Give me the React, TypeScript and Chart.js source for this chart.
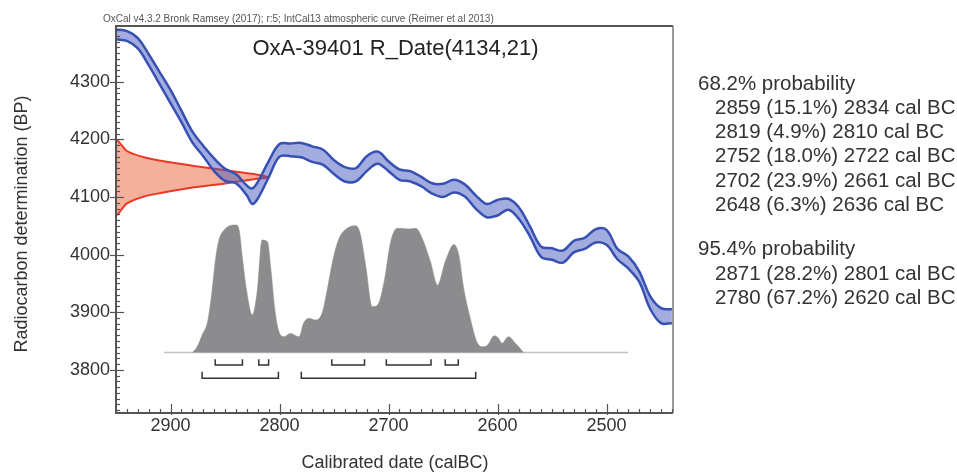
import React, { useEffect, useRef } from 'react';
import { Chart, registerables } from 'chart.js';
Chart.register(...registerables);

const FONT = '"Liberation Sans", Arial, Helvetica, sans-serif';

const HEADER = 'OxCal v4.3.2 Bronk Ramsey (2017); r:5; IntCal13 atmospheric curve (Reimer et al 2013)';
const TITLE = 'OxA-39401 R_Date(4134,21)';
const X_TITLE = 'Calibrated date (calBC)';
const Y_TITLE = 'Radiocarbon determination (BP)';

const X_TICKS = [2900, 2800, 2700, 2600, 2500];
const Y_TICKS = [3800, 3900, 4000, 4100, 4200, 4300];

// IntCal13 calibration curve band (upper / lower 1-sigma), BP
const curveYears = [2950, 2940, 2930, 2920, 2910, 2900, 2890, 2880, 2870, 2860, 2850, 2840, 2830, 2825, 2820, 2810, 2800, 2790, 2780, 2770, 2760, 2750, 2740, 2730, 2720, 2710, 2700, 2690, 2680, 2670, 2660, 2650, 2640, 2630, 2620, 2610, 2600, 2590, 2580, 2570, 2560, 2550, 2540, 2530, 2520, 2510, 2500, 2490, 2480, 2470, 2460, 2450, 2440];
const curveUpper = [4391, 4388, 4376, 4348, 4317, 4286, 4250, 4214, 4189, 4167, 4149, 4140, 4120, 4115, 4126, 4162, 4192, 4193, 4194, 4188, 4182, 4164, 4152, 4150, 4171, 4179, 4162, 4148, 4145, 4135, 4124, 4123, 4130, 4122, 4103, 4088, 4095, 4097, 4081, 4048, 4014, 4011, 4007, 4024, 4029, 4044, 4043, 4010, 3997, 3971, 3928, 3907, 3905];
const curveLower = [4374, 4371, 4358, 4329, 4296, 4263, 4230, 4195, 4171, 4145, 4128, 4124, 4103, 4088, 4097, 4134, 4170, 4171, 4169, 4161, 4156, 4140, 4127, 4127, 4145, 4158, 4145, 4130, 4127, 4119, 4106, 4100, 4108, 4101, 4080, 4065, 4068, 4078, 4061, 4031, 3996, 3991, 3986, 4004, 4010, 4021, 4017, 3992, 3976, 3953, 3906, 3881, 3881];

// Radiocarbon measurement distribution (BP vs extent in years from the axis start)
const rdateBP = [4068, 4072, 4089, 4101, 4107, 4117, 4124, 4131, 4134, 4140, 4146, 4154, 4163, 4169, 4180, 4200];
const rdateExtent = [0, 2.5, 10, 25.7, 41, 71.6, 102, 126.4, 140, 126.4, 102, 71.6, 41, 25.7, 10, 0];

// Calibrated probability distribution (relative)
const histYears = [2880, 2875.5, 2871, 2866, 2862, 2859, 2856, 2851, 2840, 2837, 2834, 2830, 2825, 2820.5, 2816, 2811, 2808, 2804, 2801, 2796, 2790, 2782, 2778, 2773, 2767, 2761, 2756, 2752, 2746, 2738, 2730, 2726, 2721, 2715, 2710, 2704, 2698, 2692, 2681, 2675, 2669, 2661.5, 2655, 2648, 2640, 2635.5, 2631, 2625, 2619, 2614, 2609, 2603, 2599, 2596, 2590, 2583.5, 2576];
const histProb = [0, 0.045, 0.137, 0.241, 0.476, 0.712, 0.869, 0.959, 1.0, 0.959, 0.739, 0.476, 0.294, 0.476, 0.882, 0.869, 0.66, 0.32, 0.176, 0.124, 0.15, 0.124, 0.229, 0.268, 0.255, 0.307, 0.503, 0.686, 0.882, 0.974, 0.994, 0.935, 0.686, 0.36, 0.373, 0.555, 0.869, 0.974, 0.969, 0.974, 0.895, 0.712, 0.529, 0.712, 0.848, 0.765, 0.503, 0.268, 0.084, 0.045, 0.059, 0.132, 0.111, 0.072, 0.124, 0.072, 0];
const baselineYears = [2906, 2480];

// Probability ranges: [from, percent, to]
const range68: [number, number, number][] = [[2859, 15.1, 2834], [2819, 4.9, 2810], [2752, 18.0, 2722], [2702, 23.9, 2661], [2648, 6.3, 2636]];
const range95: [number, number, number][] = [[2871, 28.2, 2801], [2780, 67.2, 2620]];
const LABEL68 = '68.2% probability';
const LABEL95 = '95.4% probability';

const X_MIN = 2439, X_MAX = 2950;
const Y_MIN = 3725, Y_MAX = 4397;
const P_MIN = -0.4745, P_MAX = 2.561;

const BLUE = 'rgb(55,80,180)';
const BLUE_FILL = 'rgba(70,90,190,0.5)';
const RED = 'rgb(235,55,35)';
const RED_FILL = 'rgb(245,176,156)';
const GREY = 'rgb(140,140,142)';

function bracketPoints(ranges: [number, number, number][], bar: number, tip: number) {
  const pts: any[] = [];
  ranges.forEach(([a, , b]) => {
    pts.push({ x: a, y: tip }, { x: a, y: bar }, { x: b, y: bar }, { x: b, y: tip }, { x: b, y: null });
  });
  return pts;
}

const decor = {
  id: 'decor',
  afterDraw(chart: any) {
    const { ctx, chartArea: a, scales } = chart;
    const xs = scales.x, ys = scales.y;
    ctx.save();
    // frame
    ctx.strokeStyle = '#555';
    ctx.lineWidth = 2;
    ctx.beginPath();
    ctx.moveTo(a.right, a.top);
    ctx.lineTo(a.left, a.top);
    ctx.lineTo(a.left, a.bottom);
    ctx.lineTo(a.right, a.bottom);
    ctx.stroke();
    ctx.lineWidth = 1.5;
    ctx.strokeStyle = '#777';
    ctx.beginPath();
    ctx.moveTo(a.right, a.top);
    ctx.lineTo(a.right, a.bottom);
    ctx.stroke();
    // ticks
    ctx.strokeStyle = '#555';
    ctx.lineWidth = 1.2;
    for (let v = 3730; v <= Y_MAX; v += 10) {
      const y = Math.round(ys.getPixelForValue(v)) + 0.5;
      const major = v % 100 === 0;
      ctx.beginPath();
      ctx.moveTo(a.left - (major ? 6 : 0), y);
      ctx.lineTo(a.left + (major ? 8 : 4), y);
      ctx.stroke();
    }
    for (let v = 2440; v <= X_MAX; v += 10) {
      const x = Math.round(xs.getPixelForValue(v)) + 0.5;
      const major = v % 100 === 0;
      ctx.beginPath();
      ctx.moveTo(x, a.bottom + (major ? 2 : 0));
      ctx.lineTo(x, a.bottom - (major ? 9 : 4));
      ctx.stroke();
    }
    // texts
    ctx.fillStyle = '#555';
    ctx.font = `10px ${FONT}`;
    ctx.textAlign = 'left';
    ctx.textBaseline = 'alphabetic';
    ctx.fillText(HEADER, 103, 21.5);

    ctx.fillStyle = '#222';
    ctx.font = `22px ${FONT}`;
    ctx.textAlign = 'center';
    ctx.fillText(TITLE, (a.left + a.right) / 2 + 1, 55);

    ctx.fillStyle = '#333';
    ctx.font = `18px ${FONT}`;
    ctx.fillText(X_TITLE, 395, 468);
    ctx.save();
    ctx.translate(27, 224);
    ctx.rotate(-Math.PI / 2);
    ctx.fillText(Y_TITLE, 0, 0);
    ctx.restore();

    ctx.font = `20.5px ${FONT}`;
    ctx.textAlign = 'left';
    const step = 24.3;
    ctx.fillText(LABEL68, 698, 89.5);
    range68.forEach(([f, p, t], i) => ctx.fillText(`${f} (${p.toFixed(1)}%) ${t} cal BC`, 715, 89.5 + step * (i + 1)));
    ctx.fillText(LABEL95, 698, 255.3);
    range95.forEach(([f, p, t], i) => ctx.fillText(`${f} (${p.toFixed(1)}%) ${t} cal BC`, 715, 255.3 + step * (i + 1)));
    ctx.restore();
  },
};

export default function App() {
  const ref = useRef<HTMLCanvasElement>(null);
  useEffect(() => {
    const canvas = ref.current!;
    const upper = curveYears.map((x, i) => ({ x, y: curveUpper[i] }));
    const lower = curveYears.map((x, i) => ({ x, y: curveLower[i] }));
    const red = [
      { x: X_MAX + 12, y: rdateBP[0] },
      ...rdateBP.map((y, i) => ({ x: X_MAX - rdateExtent[i], y })),
      { x: X_MAX + 12, y: rdateBP[rdateBP.length - 1] },
    ];
    const hist = histYears.map((x, i) => ({ x, y: histProb[i] }));
    const base = baselineYears.map((x) => ({ x, y: 0 }));
    const chart = new Chart(canvas, {
      type: 'line',
      data: {
        datasets: [
          { data: bracketPoints(range68, -0.098, -0.053), yAxisID: 'yp', borderColor: '#333', borderWidth: 1.5, pointRadius: 0, fill: false, spanGaps: false, order: 0 } as any,
          { data: bracketPoints(range95, -0.202, -0.151), yAxisID: 'yp', borderColor: '#333', borderWidth: 1.5, pointRadius: 0, fill: false, spanGaps: false, order: 0 } as any,
          { data: upper, yAxisID: 'y', borderColor: BLUE, borderWidth: 2.5, pointRadius: 0, tension: 0.35, fill: false, order: 1 },
          { data: lower, yAxisID: 'y', borderColor: BLUE, borderWidth: 2.5, pointRadius: 0, tension: 0.35, fill: '-1', backgroundColor: BLUE_FILL, order: 1 },
          { data: red, yAxisID: 'y', borderColor: RED, borderWidth: 2, pointRadius: 0, tension: 0.25, fill: 'shape', backgroundColor: RED_FILL, order: 2 } as any,
          { data: base, yAxisID: 'yp', borderColor: '#c4c4c4', borderWidth: 1.5, pointRadius: 0, fill: false, order: 4 },
          { data: hist, yAxisID: 'yp', borderColor: GREY, borderWidth: 0.5, pointRadius: 0, cubicInterpolationMode: 'monotone', fill: 'origin', backgroundColor: GREY, order: 3 },
        ],
      },
      options: {
        animation: false,
        responsive: false,
        events: [],
        layout: { padding: { left: 0, top: 26, right: 284, bottom: 0 } },
        plugins: { legend: { display: false }, tooltip: { enabled: false }, title: { display: false } },
        scales: {
          x: {
            type: 'linear', reverse: true, min: X_MIN, max: X_MAX, position: 'bottom',
            afterFit: (s: any) => { s.height = 60; },
            afterBuildTicks: (s: any) => { s.ticks = X_TICKS.map((v) => ({ value: v })); },
            grid: { display: false, drawTicks: false }, border: { display: false },
            ticks: { padding: 2, color: '#333', font: { family: FONT, size: 18 }, maxRotation: 0, autoSkip: false, callback: (v: any) => String(v) },
          },
          y: {
            type: 'linear', min: Y_MIN, max: Y_MAX, position: 'left',
            afterFit: (s: any) => { s.width = 116; },
            afterBuildTicks: (s: any) => { s.ticks = Y_TICKS.map((v) => ({ value: v })); },
            grid: { display: false, drawTicks: false }, border: { display: false },
            ticks: { padding: 6, color: '#333', font: { family: FONT, size: 18 }, autoSkip: false, callback: (v: any) => String(v) },
          },
          yp: { type: 'linear', display: false, min: P_MIN, max: P_MAX },
        },
      } as any,
      plugins: [decor],
    });
    return () => chart.destroy();
  }, []);
  return (
    <div style={{ position: 'fixed', left: 0, top: 0, width: 957, height: 473, background: '#fff' }}>
      <canvas ref={ref} width={957} height={473} style={{ display: 'block' }} />
    </div>
  );
}
